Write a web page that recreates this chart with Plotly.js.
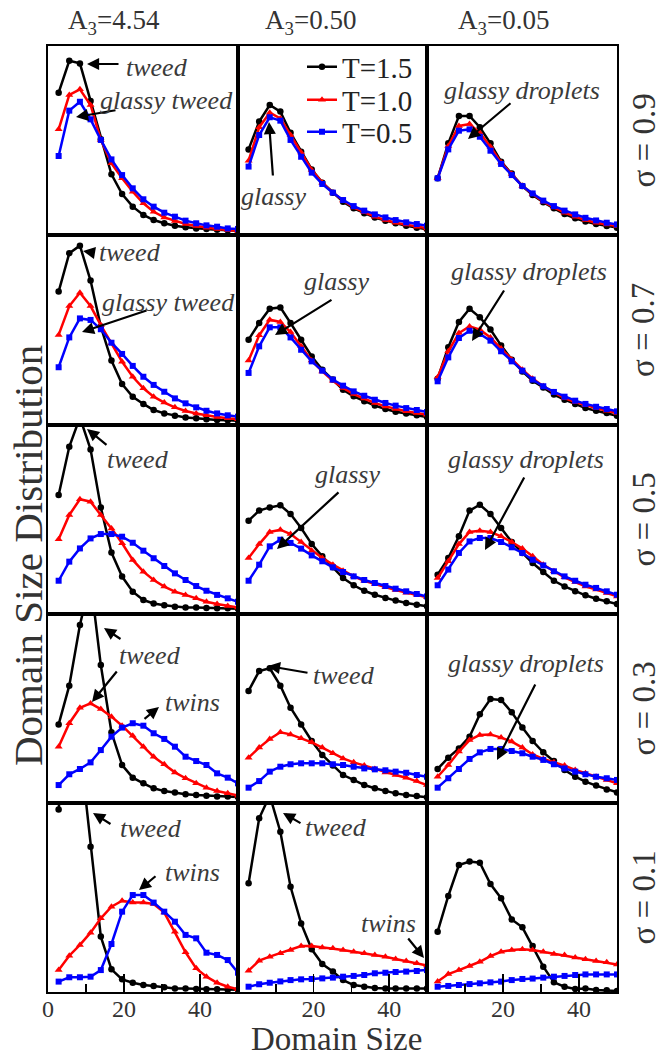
<!DOCTYPE html>
<html>
<head>
<meta charset="utf-8">
<script src="https://cdn.plot.ly/plotly-3.0.1.min.js"></script>
<style>html,body{margin:0;padding:0;background:#fff;}#chart{width:668px;height:1058px;}</style>
</head>
<body>
<div id="chart"></div>
<script>
// ---------- data ----------
var domainSize = [2.8, 5.6, 8.4, 11.2, 13.9, 16.7, 19.5, 22.3, 25.1, 27.8, 30.6, 33.4, 36.2, 39, 41.7, 44.5, 47.3, 50];
var columnTitles = ['A<sub>3</sub>=4.54', 'A<sub>3</sub>=0.50', 'A<sub>3</sub>=0.05'];
var rowTitles = ['σ = 0.9', 'σ = 0.7', 'σ = 0.5', 'σ = 0.3', 'σ = 0.1'];
var seriesNames = ['T=1.5', 'T=1.0', 'T=0.5'];
var tickVals = [0, 20, 40];
var tickTextFirst = ['0', '20', '40'];
var tickTextOther = ['', '20', '40'];

// sigma = 0.9
var t15_s09_a454 = [75.3, 92.2, 90.8, 70.9, 50.6, 32.1, 21.7, 15.0, 10.6, 7.9, 6.2, 4.9, 4.1, 3.5, 3.2, 2.8, 2.5, 2.3];
var t10_s09_a454 = [55.9, 74.1, 77.1, 68.8, 50.3, 37.9, 30.0, 22.9, 16.8, 12.3, 9.3, 7.4, 5.8, 4.8, 3.9, 3.2, 2.6, 2.3];
var t05_s09_a454 = [41.8, 65.8, 70.5, 61.2, 50.3, 40.0, 31.7, 24.7, 18.9, 15.0, 11.8, 9.7, 7.6, 6.2, 5.1, 4.4, 3.5, 3.2];
var t15_s09_a050 = [45.3, 60.0, 68.8, 65.3, 54.1, 44.1, 34.7, 27.7, 22.4, 17.6, 14.1, 11.5, 9.2, 7.6, 6.2, 4.9, 3.9, 3.0];
var t10_s09_a050 = [39.3, 57.0, 64.7, 61.7, 52.9, 43.6, 34.4, 27.7, 22.4, 18.2, 14.6, 12.0, 9.7, 7.9, 6.5, 5.5, 4.4, 3.5];
var t05_s09_a050 = [36.2, 52.9, 62.3, 60.5, 50.3, 41.4, 33.0, 27.0, 22.4, 18.5, 15.3, 12.9, 10.9, 9.3, 7.9, 6.7, 5.8, 4.9];
var t15_s09_a005 = [30.0, 48.5, 63.0, 63.0, 57.0, 48.5, 38.8, 32.6, 25.9, 21.2, 17.3, 14.1, 11.1, 8.8, 7.1, 5.8, 4.8, 3.9];
var t10_s09_a005 = [30.0, 47.1, 57.7, 58.7, 54.1, 46.7, 38.3, 32.3, 25.9, 21.7, 17.6, 14.6, 11.8, 9.7, 7.9, 6.5, 5.6, 4.8];
var t05_s09_a005 = [30.0, 45.3, 55.2, 55.9, 52.0, 44.6, 37.6, 31.7, 25.9, 22.0, 18.2, 15.3, 12.9, 10.9, 9.1, 7.7, 6.5, 5.6];
// sigma = 0.7
var t15_s07_a454 = [70.2, 90.4, 94.4, 76.0, 51.8, 33.9, 21.6, 14.9, 11.1, 7.9, 6.1, 4.9, 4.0, 3.5, 3.0, 2.6, 2.5, 2.3];
var t10_s07_a454 = [47.4, 62.6, 69.6, 62.6, 52.6, 43.0, 33.3, 25.4, 19.3, 14.9, 11.8, 9.3, 7.4, 6.1, 5.1, 4.2, 3.5, 3.0];
var t05_s07_a454 = [30.4, 46.1, 56.1, 55.3, 50.4, 43.3, 37.4, 31.1, 25.4, 21.1, 17.5, 14.0, 11.4, 9.3, 7.5, 6.1, 5.1, 4.4];
var t15_s07_a050 = [44.9, 53.7, 61.2, 61.9, 53.7, 44.9, 36.1, 29.1, 23.9, 18.6, 15.1, 12.5, 10.2, 8.4, 7.0, 6.0, 5.1, 4.2];
var t10_s07_a050 = [33.9, 47.2, 55.4, 54.2, 48.9, 41.4, 33.9, 28.2, 23.3, 19.5, 16.3, 13.9, 11.6, 9.8, 8.4, 7.2, 6.3, 5.4];
var t05_s07_a050 = [27.4, 41.4, 51.4, 51.4, 46.1, 39.6, 33.5, 28.6, 23.9, 20.7, 17.7, 15.4, 13.3, 11.6, 10.2, 8.9, 7.9, 6.8];
var t15_s07_a005 = [24.4, 40.9, 54.2, 61.2, 56.7, 50.2, 41.9, 34.4, 28.2, 23.3, 19.8, 16.0, 13.3, 11.1, 8.9, 7.5, 6.3, 4.9];
var t10_s07_a005 = [25.1, 38.8, 48.4, 51.9, 50.2, 46.1, 40.2, 34.4, 29.1, 24.4, 20.4, 17.2, 14.2, 12.1, 10.4, 8.9, 7.5, 6.3];
var t05_s07_a005 = [23.0, 35.6, 45.8, 49.6, 47.9, 44.4, 38.8, 33.5, 28.6, 23.9, 20.4, 17.4, 14.9, 12.8, 11.1, 9.6, 8.4, 7.2];
// sigma = 0.5
var t15_s05_a454 = [63.0, 88.5, 104, 87.1, 56.4, 32.5, 19.8, 11.8, 7.4, 5.6, 4.6, 3.9, 3.5, 3.4, 3.2, 3.0, 3.0, 2.8];
var t10_s05_a454 = [39.5, 52.4, 60.7, 59.4, 52.4, 45.3, 37.4, 28.6, 22.4, 18.0, 14.5, 11.8, 10.1, 8.3, 6.5, 5.3, 4.2, 3.4];
var t05_s05_a454 = [17.6, 27.7, 34.7, 40.0, 42.3, 42.3, 40.9, 37.7, 33.5, 29.5, 25.4, 21.5, 18.0, 14.8, 12.3, 10.1, 8.3, 6.5];
var t15_s05_a050 = [49.4, 54.7, 56.4, 57.5, 52.9, 45.5, 37.0, 30.5, 24.7, 19.0, 15.2, 12.3, 10.2, 8.5, 7.1, 5.8, 4.9, 4.1];
var t10_s05_a050 = [29.6, 37.0, 43.4, 44.6, 42.3, 38.1, 33.5, 29.6, 26.1, 22.9, 19.9, 17.6, 15.9, 14.1, 12.7, 11.3, 10.2, 8.8];
var t05_s05_a050 = [17.6, 26.1, 35.8, 39.3, 37.6, 34.6, 31.0, 27.9, 24.7, 22.2, 19.9, 18.0, 16.4, 14.8, 13.4, 12.0, 10.6, 9.3];
var t15_s05_a005 = [20.8, 29.6, 41.1, 54.7, 57.8, 52.9, 45.5, 38.1, 32.3, 27.0, 22.2, 17.6, 14.6, 12.0, 9.9, 8.1, 6.7, 5.3];
var t10_s05_a005 = [19.0, 27.9, 37.0, 43.4, 44.1, 43.4, 41.1, 38.1, 34.6, 30.5, 26.1, 22.6, 19.4, 16.9, 14.6, 12.9, 11.1, 9.3];
var t05_s05_a005 = [15.2, 23.5, 32.3, 38.4, 40.2, 40.2, 38.1, 35.3, 32.3, 28.7, 25.7, 22.6, 19.9, 17.6, 15.5, 13.8, 12.0, 10.2];
// sigma = 0.3
var t15_s03_a454 = [41.6, 62.1, 94.2, 118, 73.0, 37.4, 20.1, 13.4, 10.4, 7.8, 6.3, 5.5, 4.6, 4.2, 3.9, 3.5, 3.4, 3.2];
var t10_s03_a454 = [29.8, 42.2, 50.4, 52.7, 49.7, 45.7, 40.9, 35.6, 29.8, 24.5, 20.5, 16.2, 13.1, 10.4, 8.1, 6.3, 5.1, 3.9];
var t05_s03_a454 = [9.5, 15.2, 18.0, 21.5, 28.0, 35.1, 39.9, 42.2, 40.9, 36.9, 33.9, 29.8, 24.5, 22.2, 20.1, 15.7, 13.4, 10.4];
var t15_s03_a050 = [59.3, 69.8, 71.3, 62.1, 50.4, 41.6, 32.8, 25.4, 19.8, 14.8, 12.2, 9.5, 7.8, 6.3, 5.1, 4.2, 3.7, 3.0];
var t10_s03_a050 = [24.0, 29.3, 33.9, 37.4, 36.3, 34.2, 32.1, 29.3, 26.3, 23.6, 21.5, 19.8, 18.0, 16.2, 14.8, 13.4, 11.6, 9.5];
var t05_s03_a050 = [8.1, 11.6, 16.6, 19.2, 20.5, 21.0, 21.0, 21.0, 20.5, 20.1, 19.2, 18.3, 17.8, 17.3, 16.6, 16.0, 14.8, 13.9];
var t15_s03_a005 = [18.0, 24.0, 28.9, 35.1, 46.9, 55.0, 54.5, 48.0, 39.9, 32.8, 26.8, 22.2, 17.5, 13.9, 11.3, 9.2, 7.2, 5.6];
var t10_s03_a005 = [13.9, 20.1, 27.2, 33.3, 36.0, 36.3, 34.6, 32.5, 29.3, 25.7, 23.3, 21.5, 19.8, 17.5, 15.7, 13.9, 12.2, 10.4];
var t05_s03_a005 = [8.1, 13.1, 18.0, 23.3, 26.8, 28.6, 28.6, 27.5, 26.3, 24.5, 22.8, 20.5, 18.3, 16.6, 15.2, 13.9, 13.1, 12.2];
// sigma = 0.1
var t15_s01_a454 = [96.6, 160, 130, 76.9, 29.3, 12.0, 6.7, 4.9, 3.7, 3.2, 2.5, 1.9, 1.8, 1.6, 1.4, 1.4, 1.2, 1.2];
var t10_s01_a454 = [11.6, 19.2, 24.9, 31.4, 39.0, 45.1, 48.3, 47.3, 47.3, 46.6, 42.0, 31.9, 21.0, 12.5, 8.1, 4.9, 2.8, 1.4];
var t05_s01_a454 = [5.5, 7.8, 7.8, 8.1, 11.6, 25.4, 42.5, 51.3, 51.3, 47.3, 42.5, 37.2, 30.2, 28.4, 20.8, 19.6, 16.9, 10.2];
var t15_s01_a050 = [57.5, 91.9, 104, 84.8, 55.7, 36.3, 22.6, 14.8, 10.8, 6.3, 3.7, 2.8, 2.1, 1.8, 1.8, 1.9, 1.8, 1.8];
var t10_s01_a050 = [11.3, 16.6, 18.7, 20.5, 22.2, 24.3, 24.3, 23.6, 23.1, 22.2, 21.3, 20.5, 19.6, 18.7, 17.5, 16.4, 15.2, 14.0];
var t05_s01_a050 = [2.8, 4.1, 4.9, 5.6, 6.3, 6.7, 6.9, 7.2, 7.6, 8.1, 8.5, 9.0, 9.9, 10.2, 10.6, 10.8, 11.1, 11.6];
var t15_s01_a005 = [31.9, 50.8, 67.2, 69.0, 68.4, 57.1, 49.6, 38.4, 34.2, 24.3, 13.4, 5.1, 2.8, 1.6, 1.9, 1.1, 0.9, 0.5];
var t10_s01_a005 = [5.5, 9.5, 11.6, 13.8, 16.0, 19.0, 21.3, 22.2, 22.6, 22.2, 21.3, 20.1, 19.6, 18.3, 17.3, 16.4, 15.7, 14.6];
var t05_s01_a005 = [2.8, 3.2, 3.7, 4.2, 4.6, 5.1, 5.5, 6.3, 6.9, 7.1, 7.6, 8.1, 8.5, 9.0, 9.3, 9.3, 9.3, 9.3];

var panels = [
  [[t15_s09_a454, t10_s09_a454, t05_s09_a454], [t15_s09_a050, t10_s09_a050, t05_s09_a050], [t15_s09_a005, t10_s09_a005, t05_s09_a005]],
  [[t15_s07_a454, t10_s07_a454, t05_s07_a454], [t15_s07_a050, t10_s07_a050, t05_s07_a050], [t15_s07_a005, t10_s07_a005, t05_s07_a005]],
  [[t15_s05_a454, t10_s05_a454, t05_s05_a454], [t15_s05_a050, t10_s05_a050, t05_s05_a050], [t15_s05_a005, t10_s05_a005, t05_s05_a005]],
  [[t15_s03_a454, t10_s03_a454, t05_s03_a454], [t15_s03_a050, t10_s03_a050, t05_s03_a050], [t15_s03_a005, t10_s03_a005, t05_s03_a005]],
  [[t15_s01_a454, t10_s01_a454, t05_s01_a454], [t15_s01_a050, t10_s01_a050, t05_s01_a050], [t15_s01_a005, t10_s01_a005, t05_s01_a005]]
];

// ---------- layout geometry (pixels) ----------
var W = 668, H = 1058;
var colEdges = [48, 238, 427, 617];
var rowEdges = [46, 235, 425, 614, 803, 992];
function px(x) { return x / W; }
function py(y) { return 1 - y / H; }

var styles = [
  {color: '#000000', symbol: 'circle', size: 6.5},
  {color: '#ff0000', symbol: 'triangle-up', size: 7},
  {color: '#0000ff', symbol: 'square', size: 6}
];
var serif = '"Liberation Serif", "Times New Roman", serif';
var textGray = '#333333';
var legendIds = ['legend', 'legend2', 'legend3'];
var legendRowY = [67, 100, 132];

var data = [];
var layout = {
  width: W, height: H,
  margin: {l: 0, r: 0, t: 0, b: 0},
  paper_bgcolor: '#ffffff', plot_bgcolor: '#ffffff',
  showlegend: true,
  annotations: []
};
legendIds.forEach(function (id, k) {
  layout[id] = {
    x: px(302), y: py(legendRowY[k]), xanchor: 'left', yanchor: 'middle',
    bgcolor: 'rgba(0,0,0,0)', borderwidth: 0,
    font: {family: serif, size: 29, color: '#222222'},
    itemwidth: 30
  };
});

for (var r = 0; r < 5; r++) {
  for (var c = 0; c < 3; c++) {
    var i = r * 3 + c + 1;
    var xa = 'xaxis' + (i === 1 ? '' : i), ya = 'yaxis' + (i === 1 ? '' : i);
    var xr = 'x' + (i === 1 ? '' : i), yr = 'y' + (i === 1 ? '' : i);
    var bottom = (r === 4);
    layout[xa] = {
      domain: [px(colEdges[c]), px(colEdges[c + 1])],
      range: [0, 50], anchor: yr,
      showline: true, mirror: true, linecolor: '#000', linewidth: 2,
      showgrid: false, zeroline: false,
      ticks: bottom ? 'inside' : '', ticklen: 18, tickwidth: 1.5, tickcolor: '#000',
      tickmode: 'array', tickvals: tickVals,
      ticktext: c === 0 ? tickTextFirst : tickTextOther,
      showticklabels: bottom, ticklabelstandoff: -6,
      tickfont: {family: serif, size: 24, color: textGray},
      minor: bottom ? {ticks: 'inside', dtick: 10, tick0: 0, ticklen: 8, tickwidth: 1.5, tickcolor: '#000'} : {}
    };
    layout[ya] = {
      domain: [py(rowEdges[r + 1]), py(rowEdges[r])],
      range: [0, 100], anchor: xr,
      showline: true, mirror: true, linecolor: '#000', linewidth: 2,
      showgrid: false, zeroline: false, ticks: '', showticklabels: false
    };
    for (var s = 0; s < 3; s++) {
      data.push({
        type: 'scatter', mode: 'lines+markers',
        x: domainSize, y: panels[r][c][s],
        xaxis: xr, yaxis: yr,
        name: seriesNames[s], showlegend: (i === 1), legend: legendIds[s],
        line: {color: styles[s].color, width: 2.5},
        marker: {color: styles[s].color, symbol: styles[s].symbol, size: styles[s].size},
        cliponaxis: true, hoverinfo: 'skip'
      });
    }
  }
}

// column titles
var colTitleX = [114, 310, 503];
for (var c2 = 0; c2 < 3; c2++) {
  layout.annotations.push({xref: 'paper', yref: 'paper', x: px(colTitleX[c2]), y: py(22),
    text: columnTitles[c2], showarrow: false, xanchor: 'center', yanchor: 'middle',
    font: {family: serif, size: 27, color: textGray}});
}
// row titles
for (var r2 = 0; r2 < 5; r2++) {
  layout.annotations.push({xref: 'paper', yref: 'paper', x: px(643), y: py((rowEdges[r2] + rowEdges[r2 + 1]) / 2),
    text: rowTitles[r2], showarrow: false, textangle: -90, xanchor: 'center', yanchor: 'middle',
    font: {family: serif, size: 33, color: textGray}});
}
// axis titles
layout.annotations.push({xref: 'paper', yref: 'paper', x: px(28), y: py(556),
  text: 'Domain Size Distribution', showarrow: false, textangle: -90,
  xanchor: 'center', yanchor: 'middle',
  font: {family: serif, size: 41, color: textGray}});
layout.annotations.push({xref: 'paper', yref: 'paper', x: px(337), y: py(1058),
  text: 'Domain Size', showarrow: false, xanchor: 'center', yanchor: 'bottom', borderpad: 0,
  font: {family: serif, size: 33, color: textGray}});

// arrows: [tailX, tailY, headX, headY]
var arrows = [
  [120, 64, 87, 64], [117, 110, 76, 117], [273, 177, 269, 122], [512, 102, 468, 139],
  [95, 253, 83, 251], [148, 310, 82, 332], [333, 299, 275, 335], [505, 289, 472, 341],
  [108, 446, 87, 429], [340, 491, 277, 549], [525, 476, 485, 550],
  [122, 640, 104, 628], [118, 670, 92, 702], [143, 720, 159, 707], [309, 673, 268, 666], [536, 683, 497, 760],
  [112, 825, 93, 813], [157, 875, 139, 890], [302, 824, 283, 813], [407, 937, 424, 958]
];
arrows.forEach(function (a) {
  layout.annotations.push({xref: 'paper', yref: 'paper', x: px(a[2]), y: py(a[3]),
    ax: a[0] - a[2], ay: a[1] - a[3], text: '', showarrow: true,
    arrowhead: 2, arrowsize: 1.1, arrowwidth: 2.2, arrowcolor: '#000', startstandoff: 0, standoff: 0});
});
// labels: [text, x, y]
var labels = [
  ['tweed', 157, 67], ['glassy tweed', 166, 100], ['glassy', 273, 196], ['glassy droplets', 522, 90],
  ['tweed', 130, 253], ['glassy tweed', 168, 302], ['glassy', 336, 281], ['glassy droplets', 529, 271],
  ['tweed', 138, 459], ['glassy', 347, 474], ['glassy droplets', 526, 460],
  ['tweed', 150, 655], ['twins', 193, 702], ['tweed', 344, 675], ['glassy droplets', 526, 663],
  ['tweed', 151, 828], ['twins', 192, 872], ['tweed', 336, 827], ['twins', 388, 923]
];
labels.forEach(function (l) {
  layout.annotations.push({xref: 'paper', yref: 'paper', x: px(l[1]), y: py(l[2]),
    text: '<i>' + l[0] + '</i>', showarrow: false, xanchor: 'center', yanchor: 'middle',
    font: {family: serif, size: 26, color: '#3a3a3a'}});
});

Plotly.newPlot('chart', data, layout, {staticPlot: true, displayModeBar: false});
</script>
</body>
</html>
